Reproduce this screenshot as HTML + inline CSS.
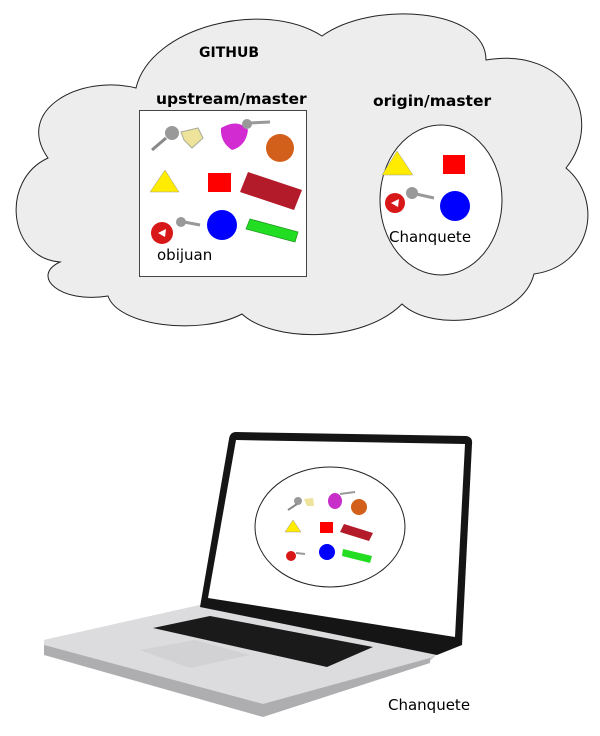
<!DOCTYPE html>
<html><head><meta charset="utf-8"><style>html,body{margin:0;padding:0;background:#fff}svg{display:block}</style></head><body>
<svg width="600" height="736" viewBox="0 0 600 736" xmlns="http://www.w3.org/2000/svg" font-family="'DejaVu Sans','Liberation Sans',sans-serif">
<path d="M60 262 C8 258 0 180 48 158 C14 110 80 74 136 88 C150 28 262 -2 322 36 C372 0 486 8 486 60 C566 46 606 118 566 168 C604 200 592 266 534 274 C522 322 434 334 402 304 C362 344 272 342 242 314 C200 336 118 326 108 296 C60 304 30 276 60 262 Z" fill="#ededed" stroke="#222" stroke-width="1"/>
<text x="199" y="57" font-size="14" font-weight="bold">GITHUB</text>
<text x="156" y="104" font-size="15.5" font-weight="bold">upstream/master</text>
<text x="373" y="106" font-size="15.5" font-weight="bold">origin/master</text>
<rect x="139.5" y="110.5" width="167" height="166" fill="#fff" stroke="#444"/>
<g>
<circle cx="172" cy="133" r="7" fill="#999"/><path d="M166 138 L152 150" stroke="#888" stroke-width="3"/>
<path d="M181 132 L198 128 L203 138 L192 148 L184 140 Z" fill="#eee39a" stroke="#aa9" />
<path d="M221 128 Q238 118 248 130 Q246 146 232 150 Q220 142 221 128Z" fill="#d22bd2"/>
<circle cx="247" cy="124" r="5" fill="#999"/><path d="M250 123 L270 122" stroke="#999" stroke-width="3"/>
<circle cx="280" cy="148" r="14" fill="#d2601a"/>
<polygon points="150,192 165,170 179,192" fill="#ffec00" stroke="#999" stroke-width="0.5"/>
<rect x="208" y="173" width="23" height="19" fill="#f00"/>
<polygon points="248,172 302,190 294,210 240,192" fill="#b31a2a"/>
<circle cx="162" cy="233" r="11" fill="#d81818"/><polygon points="158,233 166,229 165,237" fill="#fff"/>
<circle cx="181" cy="222" r="5" fill="#999"/><path d="M184 222 L200 225" stroke="#999" stroke-width="3"/>
<circle cx="222" cy="225" r="15" fill="#00f"/>
<polygon points="250,219 298,232 295,242 246,229" fill="#22dd22" stroke="#292" stroke-width="0.8"/>
</g>
<text x="157" y="260" font-size="15">obijuan</text>
<ellipse cx="441" cy="200" rx="61" ry="75" fill="#fff" stroke="#222"/>
<polygon points="382,175 397,151 413,175" fill="#ffec00" stroke="#999" stroke-width="0.5"/>
<rect x="443" y="155" width="22" height="19" fill="#f00"/>
<circle cx="395" cy="203" r="10" fill="#d81818"/><polygon points="391,203 399,199 398,207" fill="#fff"/>
<circle cx="412" cy="193" r="6" fill="#999"/><path d="M416 194 L434 198" stroke="#999" stroke-width="3"/>
<circle cx="455" cy="206" r="15" fill="#00f"/>
<text x="389" y="242" font-size="15">Chanquete</text>
<!-- laptop -->
<polygon points="44,640 200,605 437,654 430,661 263,714 44,652" fill="#c9c9cb"/>
<polygon points="44,640 200,605 437,654 430,658 263,704 44,645" fill="#dcdcde"/>
<polygon points="44,645 263,704 430,658 430,663 263,717 44,655" fill="#aeaeb0"/>
<polygon points="153,628 210,616 373,647 327,667" fill="#1a1a1a"/>
<polygon points="140,650 195,640 250,655 190,668" fill="#d2d2d4"/>
<path d="M236 432 L466 436 Q473 437 472 444 L462 645 L437 655 L200 607 L229 439 Q230 432 236 432 Z" fill="#151515"/>
<polygon points="236,440 465,444 455,637 208,598" fill="#fff"/>
<ellipse cx="330" cy="527" rx="75" ry="60" fill="#fff" stroke="#222"/>
<circle cx="298" cy="501" r="4" fill="#999"/><path d="M297 504 L288 510" stroke="#888" stroke-width="2"/>
<path d="M304 499 L313 498 L314 506 L307 506Z" fill="#eee39a"/>
<ellipse cx="335" cy="501" rx="7" ry="8" fill="#c82ec8"/>
<path d="M340 494 L355 492" stroke="#999" stroke-width="2"/>
<circle cx="359" cy="507" r="8" fill="#d2601a"/>
<polygon points="285,532 293,520 301,532" fill="#ffec00" stroke="#999" stroke-width="0.5"/>
<rect x="320" y="522" width="13" height="11" fill="#f00"/>
<polygon points="344,524 373,533 369,541 340,532" fill="#b31a2a"/>
<circle cx="291" cy="556" r="5" fill="#d81818"/><path d="M296 553 L305 554" stroke="#999" stroke-width="2"/>
<circle cx="327" cy="552" r="8" fill="#00f"/>
<polygon points="343,549 372,556 370,563 342,556" fill="#22dd22"/>
<text x="388" y="710" font-size="15">Chanquete</text>
</svg>
</body></html>
